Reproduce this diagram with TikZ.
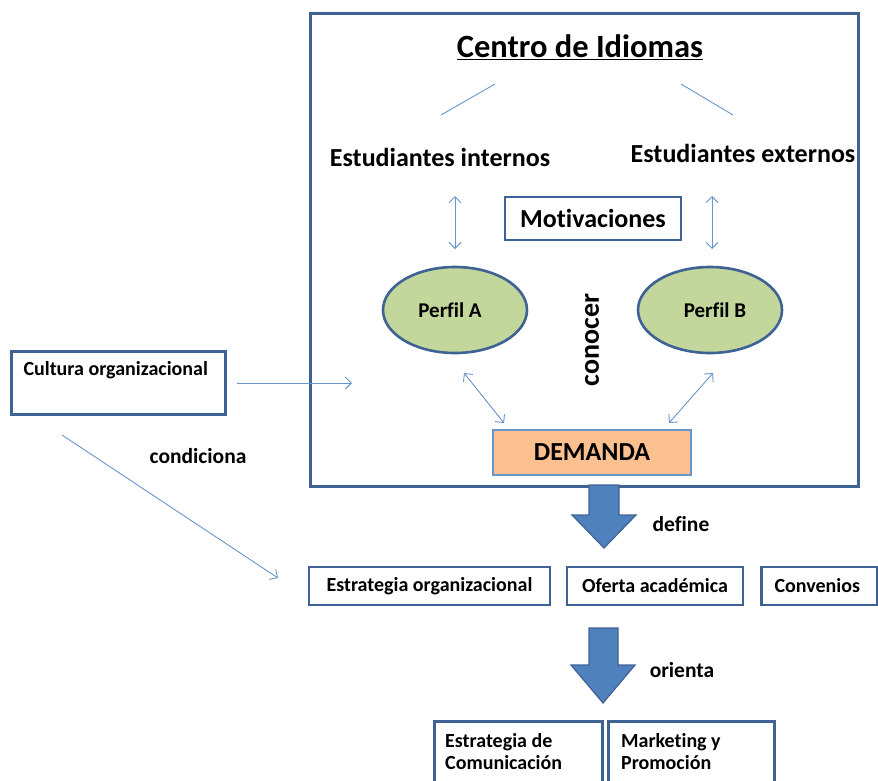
\documentclass[tikz,border=0pt]{standalone}
\usepackage{fontspec}
\setmainfont{Carlito}[Ligatures=NoCommon]
\usetikzlibrary{arrows.meta,shapes.geometric}
\definecolor{dkblue}{HTML}{3F6294}
\definecolor{ltblue}{HTML}{6A95CC}
\definecolor{arrowfill}{HTML}{4F81BD}
\definecolor{perfil}{HTML}{C3D69B}
\definecolor{demanda}{HTML}{FAC090}
\tikzset{
  frame/.style={draw=dkblue, line width=2.6pt, inner sep=0pt},
  boxlabel/.style={font=\bfseries\fontsize{20}{22}\selectfont},
  verb/.style={font=\bfseries\fontsize{21.5}{24}\selectfont},
  big/.style={font=\bfseries\fontsize{26}{30}\selectfont},
  thin/.style={draw=ltblue, line width=0.9pt},
  barb/.tip={Straight Barb[length=6pt,width=12pt,line width=0.9pt]},
  link/.style={thin, -barb},
  twoway/.style={thin, barb-barb},
  perfilnode/.style={ellipse, draw=dkblue, line width=2.6pt, fill=perfil,
    minimum width=144pt, minimum height=86pt},
  perfillabel/.style={font=\bfseries\fontsize{21}{24}\selectfont},
  blockarrow/.style={draw=dkblue, line width=1.2pt, fill=arrowfill},
}
\begin{document}
\begin{tikzpicture}[x=1pt,y=-1pt]
\useasboundingbox (0,0) rectangle (878,780);

% main frame
\node[frame, minimum width=548pt, minimum height=473pt, anchor=north west] (centro) at (309,12) {};
\node[font=\bfseries\fontsize{32.5}{38}\selectfont] (title) at (580,47) {\underline{Centro de Idiomas}};

% branches to the two student groups
\coordinate (t1a) at (495,84); \coordinate (t1b) at (441,115);
\coordinate (t2a) at (681,84); \coordinate (t2b) at (733,115);
\draw[thin] (t1a) -- (t1b);
\draw[thin] (t2a) -- (t2b);

\node[big] (internos) at (440,157) {Estudiantes internos};
\node[big] (externos) at (743,153) {Estudiantes externos};

\node[frame, minimum width=176pt, minimum height=43pt, big] (motiv) at (593,218.5) {Motivaciones};

\coordinate (a1t) at (455,196); \coordinate (a1b) at (455,249);
\coordinate (a2t) at (712,196); \coordinate (a2b) at (712,249);
\draw[twoway] (a1t) -- (a1b);
\draw[twoway] (a2t) -- (a2b);

\node[perfilnode] (pa) at (455,310) {};
\node[perfillabel] (patxt) at (450,310) {Perfil A};
\node[perfilnode] (pb) at (710,310) {};
\node[perfillabel] (pbtxt) at (715,310) {Perfil B};

\node[font=\bfseries\fontsize{28}{32}\selectfont, rotate=90] (conocer) at (592,340) {conocer};

\node[frame, draw=ltblue, fill=demanda, minimum width=198pt, minimum height=45pt, big] (dem) at (592,452.5) {DEMANDA};

\coordinate (d1a) at (464,373); \coordinate (d1b) at (504,423);
\coordinate (d2a) at (713,373); \coordinate (d2b) at (669,423);
\draw[twoway] (d1a) -- (d1b);
\draw[twoway] (d2a) -- (d2b);

% organisational culture
\node[frame, minimum width=214pt, minimum height=63pt, anchor=north west] (cultura) at (10,350) {};
\node[boxlabel, anchor=west] (culturatxt) at (20,370) {Cultura organizacional};
\coordinate (c1) at (237,383); \coordinate (c2) at (352,383);
\draw[link] (c1) -- (c2);
\coordinate (k1) at (62,435); \coordinate (k2) at (278,578);
\draw[link] (k1) -- (k2);
\node[verb] (condiciona) at (198,456) {condiciona};

% first block arrow
\draw[blockarrow] (589,485) -- (619,485) -- (619,515) -- (636,515) -- (604,548)
  -- (572,515) -- (589,515) -- cycle;
\node[verb] (define) at (681,524) {define};

\node[frame, minimum width=241pt, minimum height=38pt, boxlabel] (estrat) at (429.5,586) {Estrategia organizacional};
\node[frame, minimum width=176pt, minimum height=38pt, boxlabel] (oferta) at (655,586) {Oferta académica};
\node[frame, minimum width=116pt, minimum height=38pt, anchor=west] (conv) at (760,586) {};
\node[boxlabel, anchor=west] (convtxt) at (771,586) {Convenios};

% second block arrow
\draw[blockarrow] (589,628) -- (618,628) -- (618,665) -- (635,665) -- (603,703)
  -- (571,665) -- (589,665) -- cycle;
\node[verb] (orienta) at (682,670) {orienta};

\node[frame, minimum width=168pt, minimum height=72pt, anchor=north west] (comu) at (433,720) {};
\node[boxlabel, anchor=north west, align=left, inner sep=0pt] (comutxt) at (445,733) {Estrategia de\\Comunicación};
\node[frame, minimum width=166pt, minimum height=72pt, anchor=north west] (mark) at (607,720) {};
\node[boxlabel, anchor=north west, align=left, inner sep=0pt] (marktxt) at (621,733) {Marketing y\\Promoción};
\end{tikzpicture}
\end{document}
